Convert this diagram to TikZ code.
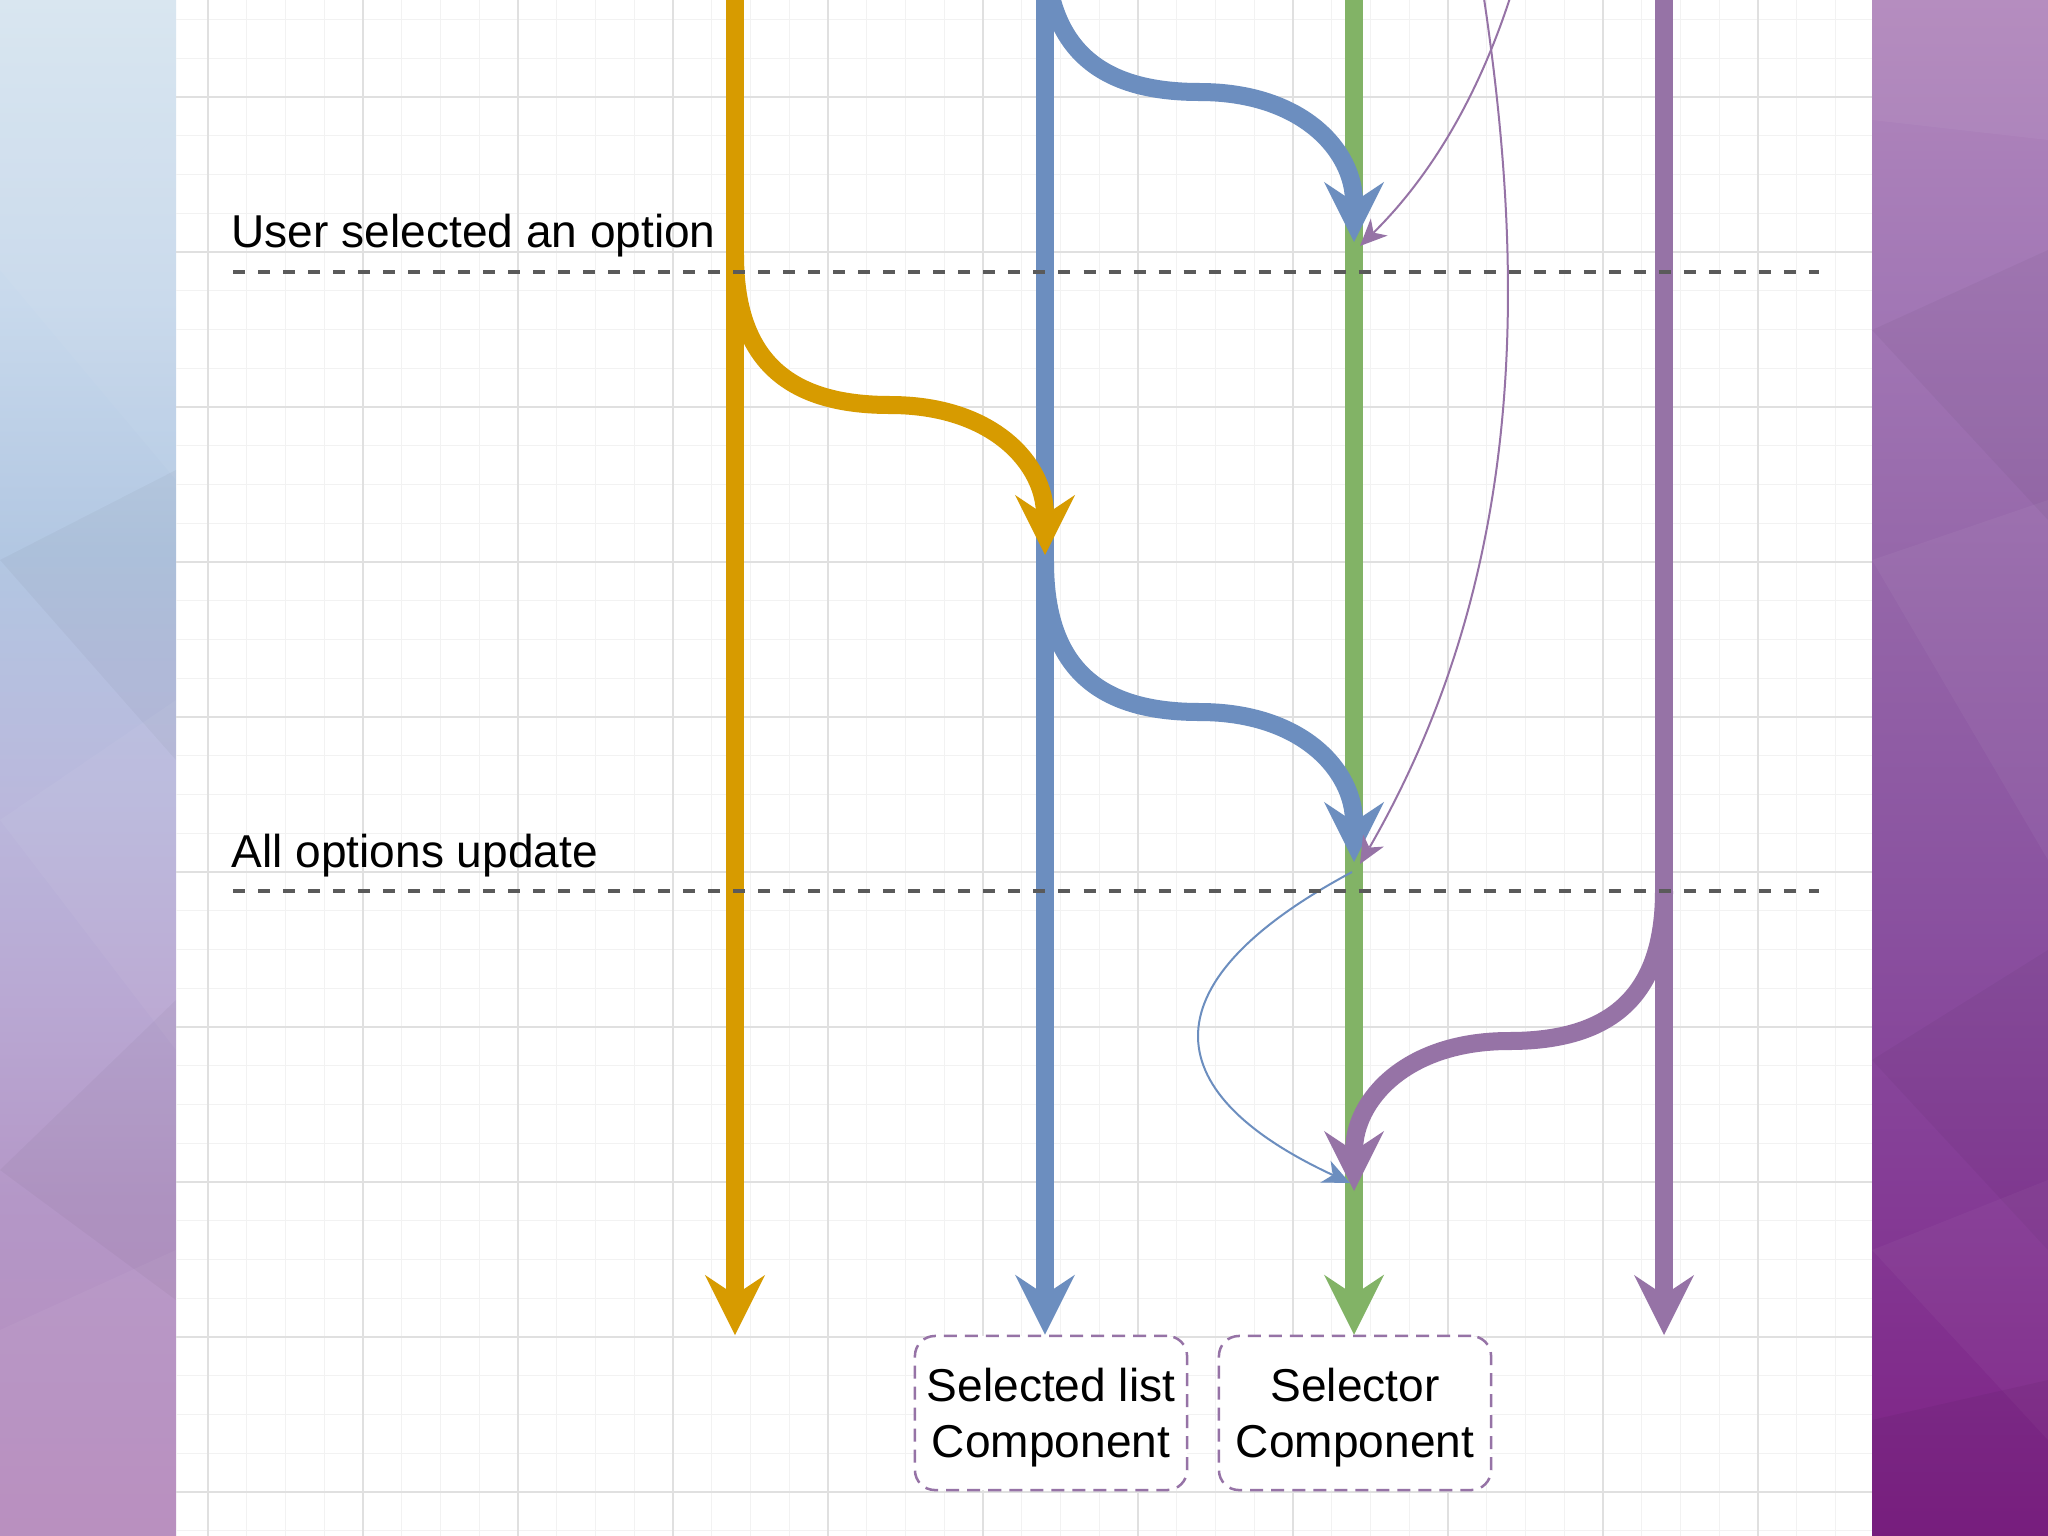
\documentclass[tikz,border=0pt]{standalone}
\usepackage{fontspec}
\setmainfont{Liberation Sans}
\usetikzlibrary{arrows.meta,calc}
\definecolor{cOrange}{HTML}{D79B00}
\definecolor{cBlue}{HTML}{6C8EBF}
\definecolor{cGreen}{HTML}{82B366}
\definecolor{cPurple}{HTML}{9673A6}
\definecolor{cDash}{HTML}{5A5A5A}
\definecolor{gridMinor}{HTML}{F2F2F2}
\definecolor{gridMajor}{HTML}{E0E0E0}
\pgfdeclareverticalshading{leftpanel}{100bp}{
 rgb(0bp)=(0.714,0.545,0.741);
 rgb(25bp)=(0.714,0.545,0.741);
 rgb(35.9bp)=(0.706,0.592,0.780);
 rgb(42.4bp)=(0.725,0.659,0.827);
 rgb(49bp)=(0.729,0.722,0.863);
 rgb(57.1bp)=(0.698,0.780,0.886);
 rgb(65.2bp)=(0.784,0.851,0.925);
 rgb(75bp)=(0.847,0.898,0.941);
 rgb(100bp)=(0.847,0.898,0.941)}
\pgfdeclareverticalshading{rightpanel}{100bp}{
 rgb(0bp)=(0.490,0.122,0.514);
 rgb(25bp)=(0.490,0.122,0.514);
 rgb(35.9bp)=(0.518,0.231,0.584);
 rgb(45.7bp)=(0.541,0.322,0.627);
 rgb(55.5bp)=(0.580,0.396,0.659);
 rgb(65.2bp)=(0.635,0.467,0.710);
 rgb(75bp)=(0.698,0.533,0.741);
 rgb(100bp)=(0.698,0.533,0.741)}
\begin{document}
\begin{tikzpicture}[x=0.01cm,y=-0.01cm,
  lane/.style={line width=0.18cm},
  bigtip/.style={-{Stealth[length=0.6cm,width=0.6cm,inset=0.2cm,line width=0pt]}},
  thinline/.style={line width=0.02cm},
  smalltip/.style={-{Stealth[length=0.27cm,width=0.24cm,inset=0.08cm,line width=0pt]}},
  dashline/.style={cDash,line width=0.035cm,dash pattern=on 0.12cm off 0.13cm},
  lbl/.style={inner sep=0pt,font=\fontsize{13.1pt}{15.9pt}\selectfont},
  compbox/.style={draw=cPurple,fill=white,line width=0.025cm,dash pattern=on 0.13cm off 0.08cm,
     rounded corners=0.2cm,minimum width=2.72cm,minimum height=1.54cm,align=center,inner sep=0pt,
     text depth=0pt,font=\fontsize{13.1pt}{15.9pt}\selectfont},
  facet/.style={opacity=0.045}
]
\useasboundingbox (0,0) rectangle (2048,1536);
\clip (0,0) rectangle (2048,1536);
% background panels
\fill[white] (176,0) rectangle (1872,1536);
\shade[shading=leftpanel] (0,0) rectangle (176,1536);
\shade[shading=rightpanel] (1872,0) rectangle (2048,1536);
% low-poly facets
\fill[white,facet] (0,0) -- (176,0) -- (176,120) -- (0,270) -- cycle;
\fill[white,facet] (0,270) -- (176,120) -- (176,480) -- cycle;
\fill[black,opacity=0.03] (0,560) -- (176,470) -- (176,760) -- cycle;
\fill[white,facet] (0,820) -- (176,700) -- (176,1050) -- cycle;
\fill[black,opacity=0.03] (0,1170) -- (176,1000) -- (176,1300) -- cycle;
\fill[white,facet] (0,1330) -- (176,1250) -- (176,1536) -- (0,1536) -- cycle;
\fill[white,facet] (1872,0) -- (2048,0) -- (2048,140) -- (1872,120) -- cycle;
\fill[black,opacity=0.035] (1872,330) -- (2048,250) -- (2048,520) -- cycle;
\fill[white,facet] (1872,560) -- (2048,500) -- (2048,860) -- cycle;
\fill[black,opacity=0.035] (1872,1060) -- (2048,950) -- (2048,1250) -- cycle;
\fill[white,opacity=0.035] (1872,1250) -- (2048,1180) -- (2048,1440) -- cycle;
\fill[black,opacity=0.045] (1872,1420) -- (2048,1380) -- (2048,1536) -- (1872,1536) -- cycle;
% grid
\begin{scope}
\clip (176,0) rectangle (1872,1536);
\foreach \k in {0,...,42} {\draw[gridMinor,line width=0.01cm] ({208+38.75*\k},0) -- ({208+38.75*\k},1536);}
\foreach \k in {-2,...,37} {\draw[gridMinor,line width=0.01cm] (176,{97+38.75*\k}) -- (1872,{97+38.75*\k});}
\foreach \k in {0,...,10} {\draw[gridMajor,line width=0.013cm] ({208+155*\k},0) -- ({208+155*\k},1536);}
\foreach \k in {0,...,9} {\draw[gridMajor,line width=0.013cm] (176,{97+155*\k}) -- (1872,{97+155*\k});}
\end{scope}
% boxes
\node[compbox] (sl) at (1051,1413) {Selected list\\Component};
\node[compbox] (sc) at (1355,1413) {Selector\\Component};
% lane coordinates
\coordinate (otop) at (735,-30);
\coordinate (btop) at (1045,-30);
\coordinate (gtop) at (1354,-30);
\coordinate (ptop) at (1664,-30);
\coordinate (obot) at (735,1335);
\coordinate (pbot) at (1664,1335);
% lanes
\draw[lane,cOrange,bigtip] (otop) -- (obot);
\draw[lane,cBlue,bigtip] (btop) -- (btop |- sl.north);
\draw[lane,cGreen,bigtip] (gtop) -- (gtop |- sc.north);
\draw[lane,cPurple,bigtip] (ptop) -- (pbot);
% curve end points
\coordinate (oS) at (735,255);   \coordinate (oT) at (1045,555);
\coordinate (bS1) at (1045,-58); \coordinate (bT1) at (1354,242);
\coordinate (bS2) at (1045,562); \coordinate (bT2) at (1354,862);
\coordinate (pS) at (1664,891);  \coordinate (pT) at (1354,1191);
% thick curves
\draw[lane,cOrange,bigtip] (oS) .. controls +(0,104) and +(-103,0) .. ($(oS)!.5!(oT)$)
   .. controls +(103,0) and +(0,-91) .. (oT);
\draw[lane,cBlue,bigtip] (bS1) .. controls +(0,104) and +(-103,0) .. ($(bS1)!.5!(bT1)$)
   .. controls +(103,0) and +(0,-91) .. (bT1);
\draw[lane,cBlue,bigtip] (bS2) .. controls +(0,104) and +(-103,0) .. ($(bS2)!.5!(bT2)$)
   .. controls +(103,0) and +(0,-91) .. (bT2);
\draw[lane,cPurple,bigtip] (pS) .. controls +(0,104) and +(103,0) .. ($(pS)!.5!(pT)$)
   .. controls +(-103,0) and +(0,-91) .. (pT);
% thin curves
\coordinate (ta0) at (1521,-39); \coordinate (ta1) at (1360,246);
\coordinate (tb0) at (1478,-40); \coordinate (tb1) at (1360,864);
\coordinate (tc0) at (1352,872); \coordinate (tc1) at (1350,1183);
\draw[thinline,cPurple,smalltip] (ta0) .. controls (1489,78) and (1437,170) .. (ta1);
\draw[thinline,cPurple,smalltip] (tb0) .. controls (1525,250) and (1535,560) .. (tb1);
\draw[thinline,cBlue,smalltip] (tc0) .. controls (1150,980) and (1150,1090) .. (tc1);
% dashed separators
\coordinate (d1a) at (233,272); \coordinate (d1b) at (1819,272);
\coordinate (d2a) at (233,891); \coordinate (d2b) at (1819,891);
\draw[dashline] (d1a) -- (d1b);
\draw[dashline] (d2a) -- (d2b);
% labels
\node[lbl,anchor=base west] (lab1) at (231,247) {User selected an option};
\node[lbl,anchor=base west] (lab2) at (231,867) {All options update};
\end{tikzpicture}
\end{document}
